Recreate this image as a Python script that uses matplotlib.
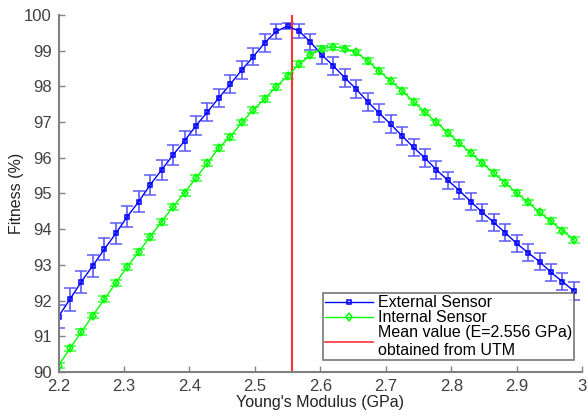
import matplotlib
matplotlib.use('Agg')
import matplotlib.pyplot as plt
from matplotlib.lines import Line2D

plt.rcParams['font.family'] = ['Liberation Sans', 'DejaVu Sans']

# young's modulus grid (GPa)
modulus = [2.2, 2.2175, 2.235, 2.2525, 2.27, 2.2875, 2.305, 2.3225, 2.34, 2.3575,
           2.375, 2.3925, 2.41, 2.4275, 2.445, 2.4625, 2.48, 2.4975, 2.515, 2.5325,
           2.55, 2.5675, 2.585, 2.6025, 2.62, 2.6375, 2.655, 2.6725, 2.69, 2.7075,
           2.725, 2.7425, 2.76, 2.7775, 2.795, 2.8125, 2.83, 2.8475, 2.865, 2.8825,
           2.9, 2.9175, 2.935, 2.9525, 2.97, 2.9875]

ext_fit = [91.55, 92.04, 92.53, 92.98, 93.44, 93.88, 94.35, 94.77, 95.24, 95.66,
           96.08, 96.47, 96.90, 97.28, 97.68, 98.06, 98.46, 98.83, 99.22, 99.54,
           99.69, 99.55, 99.24, 98.88, 98.57, 98.24, 97.92, 97.57, 97.25, 96.94,
           96.61, 96.29, 95.99, 95.66, 95.37, 95.08, 94.77, 94.47, 94.19, 93.90,
           93.60, 93.34, 93.09, 92.79, 92.53, 92.27]
ext_err = [0.32, 0.32, 0.31, 0.31, 0.30, 0.30, 0.30, 0.29, 0.29, 0.28,
           0.28, 0.28, 0.27, 0.26, 0.26, 0.25, 0.25, 0.24, 0.26, 0.20,
           0.09, 0.20, 0.22, 0.24, 0.24, 0.25, 0.25, 0.25, 0.25, 0.25,
           0.25, 0.25, 0.25, 0.25, 0.24, 0.24, 0.24, 0.24, 0.24, 0.24,
           0.24, 0.24, 0.24, 0.24, 0.24, 0.24]

int_fit = [90.18, 90.66, 91.13, 91.58, 92.04, 92.49, 92.95, 93.36, 93.79, 94.21,
           94.63, 95.02, 95.43, 95.85, 96.28, 96.59, 96.99, 97.34, 97.65, 97.99,
           98.29, 98.62, 98.88, 99.06, 99.11, 99.06, 98.95, 98.71, 98.43, 98.15,
           97.88, 97.57, 97.27, 96.99, 96.70, 96.41, 96.13, 95.85, 95.57, 95.30,
           95.01, 94.75, 94.47, 94.22, 93.96, 93.70]
int_err = [0.08] * len(int_fit)

utm_mean = 2.556

fig = plt.figure(figsize=(5.88, 4.16), dpi=100)
ax = fig.add_axes([0.0995, 0.1058, 0.8905, 0.8582])

ax.errorbar(modulus, ext_fit, yerr=ext_err, color='#0000ff', marker='s', markersize=3.5,
            markerfacecolor='none', markeredgewidth=1.1, linewidth=1.0,
            ecolor='#5a5aff', elinewidth=1.2, capsize=4, capthick=1.2)
ax.errorbar(modulus, int_fit, yerr=int_err, color='#00ff00', marker='d', markersize=4.5,
            markerfacecolor='none', markeredgewidth=1.1, linewidth=1.0,
            ecolor='#40ff40', elinewidth=1.2, capsize=4, capthick=1.2)
ax.axvline(x=utm_mean, color='#ff3030', linewidth=1.5)

ax.set_xlim(2.2, 3.0)
ax.set_ylim(90, 100)
ax.set_xticks([2.2, 2.3, 2.4, 2.5, 2.6, 2.7, 2.8, 2.9, 3.0])
ax.set_xticklabels(['2.2', '2.3', '2.4', '2.5', '2.6', '2.7', '2.8', '2.9', '3'])
ax.set_yticks(range(90, 101))

for side in ['top', 'right']:
    ax.spines[side].set_visible(False)
for side in ['left', 'bottom']:
    ax.spines[side].set_color('#808080')
    ax.spines[side].set_linewidth(1.5)
ax.tick_params(direction='in', length=4, width=1, colors='#808080',
               labelcolor='#404040', labelsize=12, pad=5)

ax.set_xlabel("Young's Modulus (GPa)", fontsize=11.5, color='#222222', labelpad=1)
ax.set_ylabel('Fitness (%)', fontsize=11.5, color='#222222', labelpad=0)

handles = [
    Line2D([], [], color='#0000ff', marker='s', markersize=3.5,
           markerfacecolor='none', markeredgewidth=1.1, linewidth=1.0),
    Line2D([], [], color='#00ff00', marker='d', markersize=4.5,
           markerfacecolor='none', markeredgewidth=1.1, linewidth=1.0),
    Line2D([], [], color='#ff3030', linewidth=1.2),
]
labels = ['External Sensor', 'Internal Sensor',
          'Mean value (E=2.556 GPa)\nobtained from UTM']
leg = ax.legend(handles, labels, loc='lower right', bbox_to_anchor=(0.985, 0.033),
                fontsize=11.5, frameon=True, fancybox=False, borderpad=0.15,
                handlelength=3.0, handletextpad=0.3, labelspacing=0.0,
                borderaxespad=0.0)
leg.get_frame().set_edgecolor('#555555')
leg.get_frame().set_linewidth(1.2)

plt.savefig('out.png', dpi=100)
